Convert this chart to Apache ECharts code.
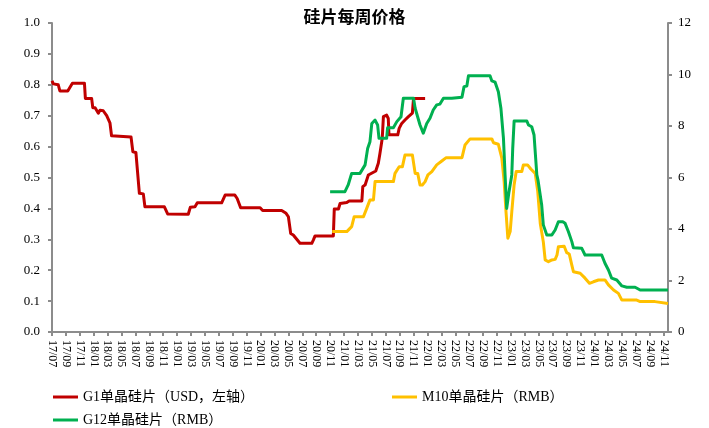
<!DOCTYPE html>
<html>
<head>
<meta charset="utf-8">
<script src="https://cdn.jsdelivr.net/npm/echarts@6/dist/echarts.min.js"></script>
<style>
  html, body { margin: 0; padding: 0; background: #fff; }
  #chart { width: 709px; height: 428px; }
</style>
</head>
<body>
<div id="chart"></div>
<script>
  // x axis tick labels, one every two months starting 2017-07
  var xLabels = [
    '17/07', '17/09', '17/11',
    '18/01', '18/03', '18/05', '18/07', '18/09', '18/11',
    '19/01', '19/03', '19/05', '19/07', '19/09', '19/11',
    '20/01', '20/03', '20/05', '20/07', '20/09', '20/11',
    '21/01', '21/03', '21/05', '21/07', '21/09', '21/11',
    '22/01', '22/03', '22/05', '22/07', '22/09', '22/11',
    '23/01', '23/03', '23/05', '23/07', '23/09', '23/11',
    '24/01', '24/03', '24/05', '24/07', '24/09', '24/11'
  ]
  var xEnd = '2024-11-19'

  var seriesNames = ['G1单晶硅片（USD，左轴）', 'M10单晶硅片（RMB）', 'G12单晶硅片（RMB）']

  // G1 (USD, left axis)
  var g1Dates = [
    '2017-07-01', '2017-07-07', '2017-07-28', '2017-08-05', '2017-09-09', '2017-09-29',
    '2017-11-21', '2017-11-25', '2017-12-22', '2017-12-27', '2018-01-07', '2018-01-21',
    '2018-01-28', '2018-02-12', '2018-02-27', '2018-03-11', '2018-03-18', '2018-06-12',
    '2018-06-20', '2018-07-03', '2018-07-18', '2018-08-05', '2018-08-12', '2018-11-06',
    '2018-11-20', '2019-02-19', '2019-02-28', '2019-03-18', '2019-03-28', '2019-07-13',
    '2019-07-20', '2019-07-28', '2019-09-10', '2019-09-20', '2019-10-05', '2019-12-29',
    '2020-01-10', '2020-04-02', '2020-04-21', '2020-05-01', '2020-05-11', '2020-05-22',
    '2020-06-07', '2020-06-21', '2020-08-12', '2020-08-19', '2020-08-26', '2020-11-15',
    '2020-11-19', '2020-12-07', '2020-12-14', '2021-01-13', '2021-01-23', '2021-03-18',
    '2021-03-22', '2021-04-02', '2021-04-09', '2021-04-16', '2021-05-08', '2021-05-18',
    '2021-05-29', '2021-06-06', '2021-06-16', '2021-06-21', '2021-07-05', '2021-07-12',
    '2021-07-15', '2021-08-23', '2021-08-29', '2021-09-10', '2021-09-24', '2021-10-09',
    '2021-10-26', '2021-10-31', '2021-12-21'
  ]
  var g1Prices = [
    0.813, 0.803, 0.80, 0.78, 0.78, 0.805,
    0.805, 0.756, 0.756, 0.726, 0.726, 0.708,
    0.718, 0.716, 0.70, 0.677, 0.635, 0.631,
    0.583, 0.581, 0.449, 0.447, 0.405, 0.405,
    0.382, 0.381, 0.404, 0.405, 0.418, 0.418,
    0.414, 0.443, 0.443, 0.432, 0.402, 0.402,
    0.393, 0.393, 0.384, 0.373, 0.319, 0.314,
    0.30, 0.287, 0.287, 0.298, 0.311, 0.311,
    0.398, 0.398, 0.416, 0.419, 0.424, 0.424,
    0.47, 0.476, 0.492, 0.508, 0.517, 0.521,
    0.546, 0.578, 0.627, 0.697, 0.702, 0.691,
    0.638, 0.638, 0.659, 0.675, 0.686, 0.697,
    0.708, 0.756, 0.756
  ]

  // M10 (RMB, right axis)
  var m10Dates = [
    '2020-11-10', '2021-01-13', '2021-02-04', '2021-02-15', '2021-03-25', '2021-04-09',
    '2021-04-23', '2021-05-08', '2021-05-15', '2021-08-04', '2021-08-11', '2021-08-29',
    '2021-09-13', '2021-09-24', '2021-10-26', '2021-11-08', '2021-11-19', '2021-11-29',
    '2021-12-09', '2021-12-21', '2022-01-03', '2022-01-20', '2022-02-11', '2022-03-03',
    '2022-03-22', '2022-05-30', '2022-06-13', '2022-07-05', '2022-10-09', '2022-10-16',
    '2022-11-07', '2022-11-22', '2022-12-02', '2022-12-10', '2022-12-18', '2022-12-28',
    '2023-01-05', '2023-01-15', '2023-01-24', '2023-02-18', '2023-02-25', '2023-03-13',
    '2023-03-27', '2023-04-16', '2023-04-27', '2023-05-08', '2023-05-21', '2023-05-29',
    '2023-06-13', '2023-06-20', '2023-06-28', '2023-07-12', '2023-07-20', '2023-07-26',
    '2023-08-21', '2023-09-02', '2023-09-13', '2023-09-24', '2023-10-01', '2023-10-30',
    '2023-11-21', '2023-12-10', '2023-12-27', '2024-01-19', '2024-02-17', '2024-03-02',
    '2024-03-24', '2024-04-15', '2024-04-30', '2024-07-04', '2024-07-19', '2024-09-23',
    '2024-10-01', '2024-11-19'
  ]
  var m10Prices = [
    3.90, 3.90, 4.09, 4.48, 4.48, 4.80,
    5.13, 5.13, 5.84, 5.84, 6.16, 6.42,
    6.42, 6.87, 6.87, 6.16, 6.16, 5.71,
    5.71, 5.84, 6.10, 6.23, 6.49, 6.64,
    6.77, 6.77, 7.26, 7.50, 7.50, 7.35,
    7.29, 6.75, 5.84, 4.67, 3.64, 3.90,
    4.67, 5.71, 6.23, 6.23, 6.49, 6.49,
    6.33, 6.16, 5.45, 4.20, 3.50, 2.80,
    2.73, 2.67, 2.80, 2.82, 2.99, 3.31,
    3.33, 3.08, 3.03, 2.60, 2.34, 2.28,
    2.09, 1.89, 1.95, 2.02, 2.02, 1.83,
    1.63, 1.50, 1.24, 1.24, 1.18, 1.18,
    1.11, 1.11
  ]

  // G12 (RMB, right axis)
  var g12Dates = [
    '2020-11-01', '2021-01-05', '2021-01-19', '2021-02-04', '2021-03-10', '2021-04-02',
    '2021-04-13', '2021-04-23', '2021-05-01', '2021-05-15', '2021-05-26', '2021-06-02',
    '2021-07-05', '2021-07-09', '2021-08-04', '2021-08-19', '2021-09-07', '2021-09-17',
    '2021-10-31', '2021-11-08', '2021-11-29', '2021-12-13', '2021-12-21', '2021-12-28',
    '2022-01-12', '2022-01-26', '2022-02-11', '2022-02-25', '2022-03-10', '2022-04-16',
    '2022-04-23', '2022-05-30', '2022-06-09', '2022-06-21', '2022-06-28', '2022-10-01',
    '2022-10-09', '2022-10-23', '2022-11-07', '2022-11-18', '2022-11-29', '2022-12-06',
    '2022-12-13', '2022-12-23', '2023-01-05', '2023-01-09', '2023-01-15', '2023-03-10',
    '2023-03-17', '2023-04-01', '2023-04-11', '2023-04-23', '2023-04-28', '2023-05-14',
    '2023-05-21', '2023-06-06', '2023-06-28', '2023-07-12', '2023-07-26', '2023-08-15',
    '2023-08-25', '2023-09-09', '2023-09-24', '2023-10-01', '2023-11-07', '2023-11-21',
    '2024-02-03', '2024-02-17', '2024-03-02', '2024-03-16', '2024-04-08', '2024-04-30',
    '2024-05-21', '2024-06-27', '2024-07-19', '2024-11-19'
  ]
  var g12Prices = [
    5.45, 5.45, 5.71, 6.16, 6.16, 6.49,
    7.13, 7.39, 8.10, 8.23, 8.04, 7.52,
    7.52, 7.93, 7.93, 8.17, 8.36, 9.08,
    9.08, 8.69, 8.04, 7.72, 7.78, 8.10,
    8.30, 8.62, 8.82, 8.85, 9.08, 9.08,
    9.12, 9.12, 9.53, 9.55, 9.95, 9.95,
    9.75, 9.70, 9.33, 8.69, 7.52, 6.10,
    4.80, 5.45, 6.10, 7.13, 8.19, 8.19,
    8.04, 7.97, 7.65, 6.10, 5.90, 4.93,
    4.16, 3.77, 3.77, 3.96, 4.28, 4.28,
    4.22, 3.90, 3.51, 3.27, 3.25, 2.99,
    2.99, 2.67, 2.41, 2.09, 2.02, 1.79,
    1.74, 1.74, 1.63, 1.63
  ]

  // months since 2017-07
  function toM (d) {
    var p = d.split('-')
    return (+p[0] - 2017) * 12 + (+p[1] - 7) + (+p[2] - 1) / 30
  }
  function pairs (dates, vals) {
    return dates.map(function (d, i) { return [toM(d), vals[i]] })
  }

  var serif = "'Liberation Serif', 'Times New Roman', 'Noto Sans CJK SC', serif"
  var axisGray = '#8c8c8c'

  var chart = echarts.init(document.getElementById('chart'))
  var legendText = { fontFamily: serif, fontSize: 14, color: '#000' }

  chart.setOption({
    animation: false,
    title: {
      text: '硅片每周价格',
      left: 'center',
      top: 3,
      textStyle: { fontFamily: 'Noto Sans CJK SC', fontWeight: 'bold', fontSize: 17, color: '#000' }
    },
    legend: [
      { data: [seriesNames[0]], left: 48, top: 385, icon: 'rect', itemWidth: 25, itemHeight: 3, textStyle: legendText },
      { data: [seriesNames[1]], left: 387, top: 385, icon: 'rect', itemWidth: 25, itemHeight: 3, textStyle: legendText },
      { data: [seriesNames[2]], left: 48, top: 408, icon: 'rect', itemWidth: 25, itemHeight: 3, textStyle: legendText }
    ],
    grid: { left: 52, right: 41, top: 23, bottom: 96, containLabel: false },
    xAxis: {
      type: 'value',
      min: 0,
      max: toM(xEnd),
      interval: 2,
      splitLine: { show: false },
      axisLine: { lineStyle: { color: axisGray, width: 2 } },
      axisTick: { length: 4, lineStyle: { color: axisGray, width: 2 } },
      axisLabel: {
        rotate: -90,
        margin: 8,
        showMaxLabel: false,
        fontFamily: serif,
        fontSize: 12,
        color: '#000',
        formatter: function (v) {
          return v % 2 === 0 ? (xLabels[v / 2] || '') : ''
        }
      }
    },
    yAxis: [{
      type: 'value',
      min: 0,
      max: 1,
      interval: 0.1,
      splitLine: { show: false },
      axisLine: { show: true, lineStyle: { color: axisGray, width: 2 } },
      axisTick: { show: true, length: 4, lineStyle: { color: axisGray, width: 2 } },
      axisLabel: {
        margin: 12,
        fontFamily: serif,
        fontSize: 13,
        color: '#000',
        formatter: function (v) { return v.toFixed(1) }
      }
    }, {
      type: 'value',
      min: 0,
      max: 12,
      interval: 2,
      splitLine: { show: false },
      axisLine: { show: true, lineStyle: { color: axisGray, width: 2 } },
      axisTick: { show: true, length: 4, lineStyle: { color: axisGray, width: 2 } },
      axisLabel: { margin: 10, fontFamily: serif, fontSize: 13, color: '#000' }
    }],
    series: [
      {
        name: seriesNames[0],
        type: 'line',
        yAxisIndex: 0,
        symbol: 'none',
        data: pairs(g1Dates, g1Prices),
        color: '#C00000',
        lineStyle: { width: 3, join: 'round' }
      },
      {
        name: seriesNames[1],
        type: 'line',
        yAxisIndex: 1,
        symbol: 'none',
        data: pairs(m10Dates, m10Prices),
        color: '#FFC000',
        lineStyle: { width: 3, join: 'round' }
      },
      {
        name: seriesNames[2],
        type: 'line',
        yAxisIndex: 1,
        symbol: 'none',
        data: pairs(g12Dates, g12Prices),
        color: '#00B050',
        lineStyle: { width: 3, join: 'round' }
      }
    ]
  })
</script>
</body>
</html>
